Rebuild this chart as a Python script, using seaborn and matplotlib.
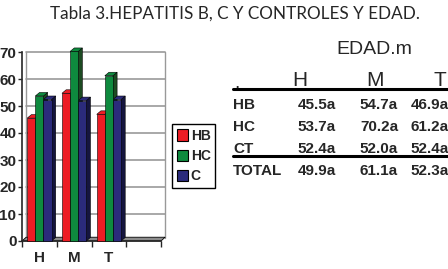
import numpy as np
import pandas as pd
import seaborn as sns
import matplotlib.pyplot as plt
from matplotlib.patches import Polygon, Patch

# chart data
categories = ["H", "M", "T", ""]
groups = ["HB", "HC", "C"]
hb_vals = [45.5, 54.7, 46.9]
hc_vals = [53.7, 70.2, 61.2]
c_vals = [52.4, 52.0, 52.4]
colors = ["#ED1C24", "#0E8A3E", "#2B2B7B"]
side_colors = ["#9E1015", "#1D4A22", "#15153F"]

# table data
table_cols = ["H", "M", "T"]
table_rows = ["HB", "HC", "CT", "TOTAL"]
table_vals = [["45.5a", "54.7a", "46.9a"],
              ["53.7a", "70.2a", "61.2a"],
              ["52.4a", "52.0a", "52.4a"],
              ["49.9a", "61.1a", "52.3a"]]

W, H = 448, 269
df = pd.DataFrame({
    "cat": categories[:3] * 3,
    "grp": [g for g in groups for _ in range(3)],
    "val": hb_vals + hc_vals + c_vals,
})

sns.set_style("white")
plt.rcParams["font.family"] = ["Liberation Sans", "DejaVu Sans"]

fig = plt.figure(figsize=(W / 100, H / 100), dpi=100)
ax = fig.add_axes([22 / W, 1 - 241 / H, 139 / W, 189 / H])

sns.barplot(data=df, x="cat", y="val", hue="grp", order=categories,
            hue_order=groups, palette=colors, width=0.7, saturation=1,
            edgecolor="black", linewidth=0.4, legend=False, ax=ax, zorder=3)

ax.set_xlim(-0.5, 3.5)
ax.set_ylim(0, 70)
ax.set_yticks(range(0, 71, 10))
ax.set_xlabel("")
ax.set_ylabel("")

# pseudo-3D: side face and top cap for each bar
dx, dy = 0.12, 1.3
for i, p in enumerate(ax.patches):
    h = p.get_height()
    if not np.isfinite(h) or h == 0:
        continue
    p.set_clip_on(False)
    x0, w = p.get_x(), p.get_width()
    k = groups.index(df["grp"].iloc[i]) if i < len(df) else 0
    side = Polygon([(x0 + w, 0), (x0 + w + dx, dy), (x0 + w + dx, h + dy), (x0 + w, h)],
                   closed=True, fc=side_colors[k], ec="black", lw=0.4, zorder=2.9,
                   clip_on=False)
    top = Polygon([(x0, h), (x0 + dx, h + dy), (x0 + w + dx, h + dy), (x0 + w, h)],
                  closed=True, fc=colors[k], ec="black", lw=0.4, zorder=2.9,
                  clip_on=False)
    ax.add_patch(side)
    ax.add_patch(top)

# back wall grid and floor
for yv in range(10, 71, 10):
    ax.plot([-0.38, 3.62], [yv, yv], color="#999999", lw=1.2, zorder=1, clip_on=False)
ax.plot([-0.38, -0.38], [1, 70], color="#999999", lw=1.0, zorder=1, clip_on=False)
ax.plot([3.62, 3.62], [1, 70], color="#999999", lw=1.0, zorder=1, clip_on=False)
floor = Polygon([(-0.5, 0), (-0.38, 1.4), (3.62, 1.4), (3.5, 0)], closed=True,
                fc="#8C8C8C", ec="black", lw=0.6, zorder=2, clip_on=False)
ax.add_patch(floor)

for s in ["top", "right"]:
    ax.spines[s].set_visible(False)
ax.spines["left"].set_linewidth(1.2)
ax.spines["bottom"].set_linewidth(1.2)
ax.tick_params(axis="y", which="both", left=True, length=3, width=1, pad=1,
               labelsize=11)
ax.tick_params(axis="x", length=0, pad=7, labelsize=11)
ax.set_xticks([-0.5, 0.5, 1.5, 2.5, 3.5], minor=True)
ax.tick_params(axis="x", which="minor", bottom=True, length=4, width=1)
for lab in ax.get_xticklabels() + ax.get_yticklabels():
    lab.set_fontweight("bold")

handles = [Patch(fc=c, ec="black", lw=0.8, label=g) for c, g in zip(colors, groups)]
fig.legend(handles=handles, loc="upper left", bbox_to_anchor=(172 / W, 1 - 124 / H),
           frameon=True, fancybox=False, edgecolor="black", framealpha=1,
           prop={"weight": "bold", "size": 10}, handlelength=0.8, handleheight=0.9,
           handletextpad=0.2, borderpad=0.35, labelspacing=0.45, borderaxespad=0)

# title
fig.text(235 / W, 1 - 14 / H, "Tabla 3.HEPATITIS B, C Y CONTROLES Y EDAD.",
         ha="center", va="center", fontsize=12.3, family=["Lato", "DejaVu Sans"])

# table on the right
fig.text(374 / W, 1 - 50 / H, "EDAD.m", ha="center", va="center", fontsize=14)
fig.text(234 / W, 1 - 84 / H, ".", ha="left", va="center", fontsize=14)
col_x = [300, 375, 440]
val_x = [317, 379, 430]
for cx, c in zip(col_x, table_cols):
    fig.text(cx / W, 1 - 80 / H, c, ha="center", va="center", fontsize=15)
fig.add_artist(plt.Line2D([233 / W, 1], [1 - 89 / H] * 2, color="black", lw=2.2))
row_y = [105, 127, 149, 171]
for ry, rl, vals in zip(row_y, table_rows, table_vals):
    fig.text(233 / W, 1 - ry / H, rl, ha="left", va="center", fontsize=11,
             fontweight="bold")
    for vx, v in zip(val_x, vals):
        fig.text(vx / W, 1 - ry / H, v, ha="center", va="center", fontsize=11,
                 fontweight="bold")
fig.add_artist(plt.Line2D([233 / W, 1], [1 - 156 / H] * 2, color="black", lw=2.2))

fig.savefig("out.png", dpi=100)
